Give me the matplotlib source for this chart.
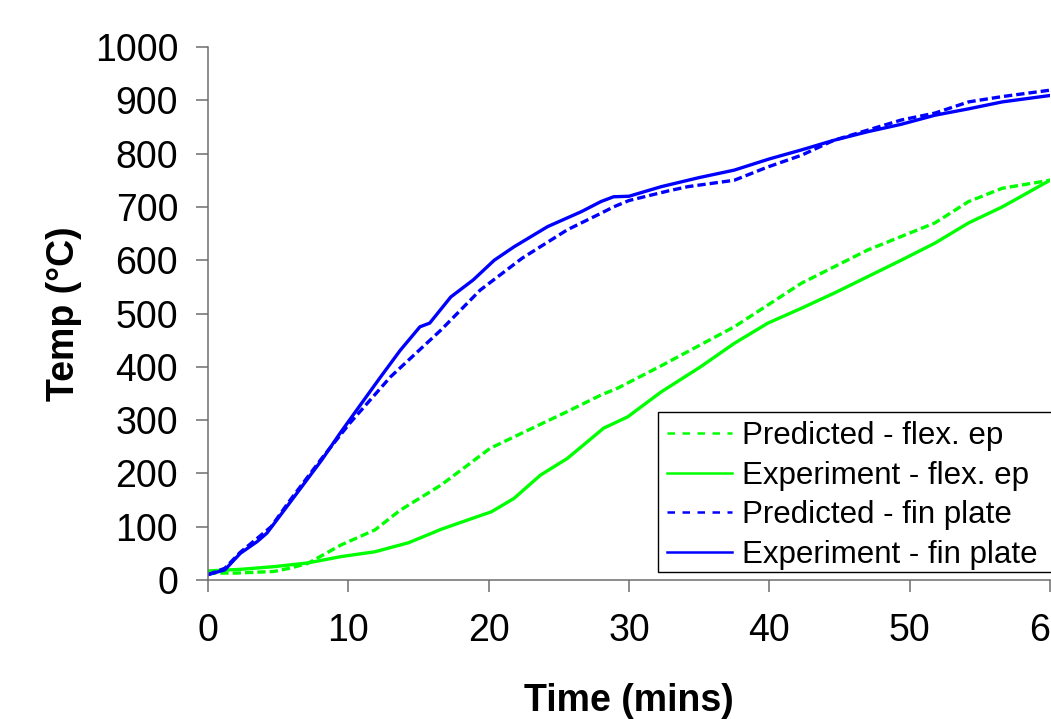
import matplotlib
matplotlib.use("Agg")
import matplotlib.pyplot as plt
from matplotlib.lines import Line2D
from matplotlib.patches import Rectangle

# ---- data ----
t_exp_fin = [0, 1.2, 2.3, 3.5, 4.2, 5.8, 8.1, 9.4, 10.9, 12.3, 13.7, 15.1, 15.8, 17.3,
             18.9, 20.4, 21.8, 24.2, 26.6, 28.0, 28.9, 30.0, 32.3, 35.0, 37.5, 40.0,
             42.3, 44.6, 47.0, 49.4, 51.8, 54.2, 56.6, 60.0]
T_exp_fin = [10, 19, 50, 72, 88, 144, 225, 275, 330, 381, 431, 475, 482, 531,
             563, 600, 625, 663, 691, 710, 719, 720, 738, 755, 769, 790,
             807, 825, 841, 855, 872, 884, 897, 909]

t_pred_fin = [0, 1.2, 2.3, 3.5, 4.5, 5.8, 8.1, 10.1, 13.0, 16.6, 19.4, 22.4, 25.6,
              28.0, 28.9, 30.0, 32.8, 34.2, 37.5, 39.9, 42.3, 44.6, 47.0, 49.4,
              51.8, 54.2, 56.6, 60.0]
T_pred_fin = [10, 22, 52, 78, 100, 148, 228, 294, 381, 469, 544, 604, 657,
              688, 700, 712, 730, 738, 750, 775, 797, 825, 844, 863,
              876, 897, 907, 919]

t_pred_flex = [0, 2.0, 4.7, 5.8, 7.1, 9.5, 11.9, 13.7, 16.6, 20.1, 22.8, 25.6, 28.0,
               29.2, 32.3, 37.5, 42.3, 47.0, 51.8, 54.2, 56.6, 60.0]
T_pred_flex = [13, 13, 16, 22, 31, 66, 94, 131, 178, 247, 281, 316, 347,
               360, 402, 475, 557, 619, 670, 710, 735, 750]

t_exp_flex = [0, 2.3, 4.7, 7.1, 9.5, 11.9, 14.3, 16.6, 19.2, 20.2, 21.8, 23.7, 25.6,
              28.2, 29.9, 32.3, 35.1, 37.5, 39.9, 42.3, 44.6, 47.0, 49.4, 51.8,
              54.2, 56.6, 60.0]
T_exp_flex = [17, 20, 25, 32, 44, 53, 70, 95, 119, 128, 153, 197, 228,
              285, 306, 353, 400, 444, 482, 510, 538, 569, 600, 632,
              670, 700, 750]

labels = ["Predicted - flex. ep", "Experiment - flex. ep",
          "Predicted - fin plate", "Experiment - fin plate"]
x_ticks = [0, 10, 20, 30, 40, 50, 60]
y_ticks = [0, 100, 200, 300, 400, 500, 600, 700, 800, 900, 1000]

GREEN = "#00FF00"
BLUE = "#0000FF"

plt.rcParams["font.family"] = ["Liberation Sans", "DejaVu Sans"]

W, H = 1051, 719
fig = plt.figure(figsize=(W / 100, H / 100), dpi=100)
ax = fig.add_axes([208 / W, 1 - 580 / H, (1050 - 208) / W, (580 - 47) / H])

lw = 2.4
ax.plot(t_pred_flex, T_pred_flex, color=GREEN, lw=lw, linestyle=(0, (2.5, 1.2)))
ax.plot(t_exp_flex, T_exp_flex, color=GREEN, lw=lw, linestyle="-")
ax.plot(t_pred_fin, T_pred_fin, color=BLUE, lw=lw, linestyle=(0, (2.5, 1.2)))
ax.plot(t_exp_fin, T_exp_fin, color=BLUE, lw=lw, linestyle="-")

ax.set_xlim(0, 60)
ax.set_ylim(0, 1000)
ax.set_xticks(x_ticks)
ax.set_yticks(y_ticks)
ax.set_xticklabels([str(v) for v in x_ticks])
ax.set_yticklabels([str(v) for v in y_ticks])

for s in ["top", "right"]:
    ax.spines[s].set_visible(False)
for s in ["left", "bottom"]:
    ax.spines[s].set_color("#6e6e6e")
    ax.spines[s].set_linewidth(1.1)
ax.spines["bottom"].set_zorder(0.5)

ax.tick_params(axis="both", direction="out", length=8.5, width=1.1, color="#6e6e6e",
               labelsize=27, labelcolor="black")
ax.tick_params(axis="y", pad=13)
ax.tick_params(axis="x", pad=15)

ax.set_xlabel("Time (mins)", fontsize=27, fontweight="bold", va="baseline")
ax.xaxis.set_label_coords(0.5, (580 - 711) / 533)
ax.set_ylabel("Temp (\u00b0C)", fontsize=27, fontweight="bold")
ax.yaxis.set_label_coords((82 - 208) / 842, 0.5)

# legend box (runs past the right edge of the picture, as in the reference)
box = Rectangle((658 / W, 1 - 572 / H), 500 / W, 160 / H, transform=fig.transFigure,
                facecolor="white", edgecolor="black", linewidth=1.0,
                clip_on=False, zorder=4.5)
ax.add_artist(box)

handles = [
    Line2D([], [], color=GREEN, lw=1.8, linestyle=(0, (3.0, 3.0))),
    Line2D([], [], color=GREEN, lw=1.8, linestyle="-"),
    Line2D([], [], color=BLUE, lw=1.8, linestyle=(0, (3.0, 3.0))),
    Line2D([], [], color=BLUE, lw=1.8, linestyle="-"),
]
fs_leg = 22.5
leg = ax.legend(handles, labels, loc="upper left",
                bbox_to_anchor=((658 - 208) / 842, (580 - 412) / 533),
                borderaxespad=0, fontsize=fs_leg, frameon=False,
                handlelength=2.08, handletextpad=0.32, labelspacing=0.30,
                borderpad=0.3)
leg.set_zorder(5)

fig.savefig("out.png", dpi=100)
